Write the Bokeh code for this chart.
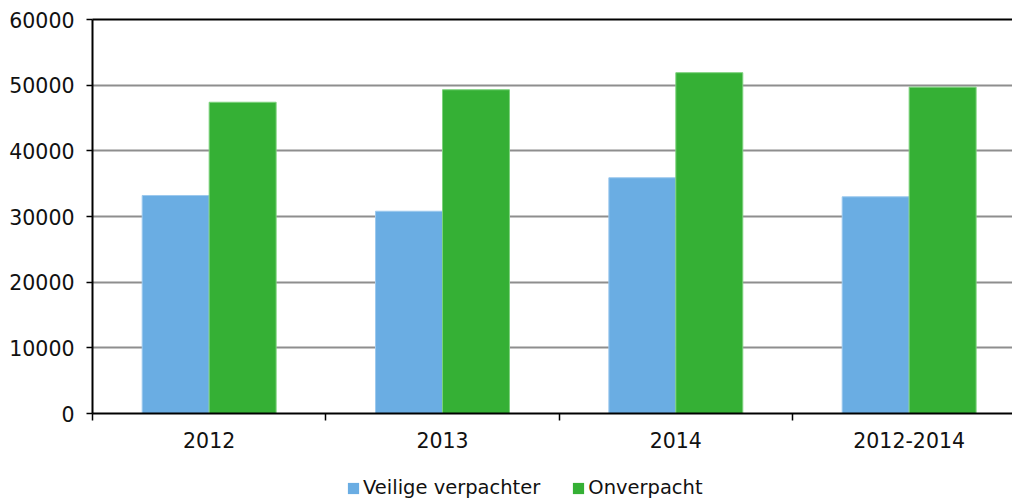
from bokeh.plotting import figure
from bokeh.models import (Range1d, FixedTicker, LinearAxis, Legend, LegendItem,
                          ColumnDataSource, BasicTickFormatter)
from bokeh.layouts import column
from bokeh.transform import dodge
from bokeh.embed import file_html
from bokeh.resources import INLINE

categories = ["2012", "2013", "2014", "2012-2014"]
series_names = ["Veilige verpachter", "Onverpacht"]
veilige_verpachter = [33200, 30800, 35900, 33000]
onverpacht = [47400, 49300, 51900, 49700]
y_ticks = [0, 10000, 20000, 30000, 40000, 50000, 60000]
colors = ["#6AADE3", "#35B035"]
edge_colors = ["#9cc9ee", "#7dd27d"]

FONT = "DejaVu Sans"
FS = "20.5px"

xpos = [i + 0.5 for i in range(len(categories))]
src = ColumnDataSource(dict(x=xpos, cat=categories, v=veilige_verpachter, o=onverpacht))

W = 1012
H_MAIN = 460
H_LEG = 39
frame_left = 92
cat_px = 233.33
x_end = (W - frame_left) / cat_px

p = figure(width=W, height=H_MAIN, output_backend="svg", toolbar_location=None,
           x_range=Range1d(0, x_end), y_range=Range1d(0, 60000),
           min_border_left=frame_left, min_border_right=0, min_border_top=19,
           min_border_bottom=H_MAIN - 413, x_axis_location=None, y_axis_location=None)
p.outline_line_color = None
p.background_fill_color = "white"
p.border_fill_color = "white"

bw = 0.287
p.vbar(x=dodge("x", -bw / 2, range=p.x_range), top="v", width=bw, source=src,
       fill_color=colors[0], line_color=edge_colors[0], line_width=1)
p.vbar(x=dodge("x", bw / 2, range=p.x_range), top="o", width=bw, source=src,
       fill_color=colors[1], line_color=edge_colors[1], line_width=1)

# y axis
yax = LinearAxis(ticker=FixedTicker(ticks=y_ticks),
                 formatter=BasicTickFormatter(use_scientific=False))
yax.axis_line_color = "black"
yax.axis_line_width = 2
yax.major_tick_out = 6
yax.major_tick_in = 0
yax.major_tick_line_width = 1.5
yax.minor_tick_line_color = None
yax.major_label_text_font = FONT
yax.major_label_text_font_size = FS
yax.major_label_text_color = "#111111"
yax.major_label_standoff = 12
p.add_layout(yax, "left")

# x axis
xax = LinearAxis(ticker=FixedTicker(ticks=xpos, minor_ticks=list(range(len(categories) + 1))))
xax.major_label_overrides = {x: c for x, c in zip(xpos, categories)}
xax.axis_line_color = "black"
xax.axis_line_width = 2
xax.major_tick_out = 0
xax.major_tick_in = 0
xax.minor_tick_out = 7
xax.minor_tick_in = 0
xax.minor_tick_line_color = "black"
xax.minor_tick_line_width = 1.5
xax.major_label_text_font = FONT
xax.major_label_text_font_size = FS
xax.major_label_text_color = "#111111"
xax.major_label_standoff = 11
p.add_layout(xax, "below")

# top border line
tax = LinearAxis(ticker=FixedTicker(ticks=[]))
tax.axis_line_color = "black"
tax.axis_line_width = 2
tax.major_tick_out = 0
tax.major_tick_in = 0
tax.major_label_standoff = 0
tax.major_label_text_font_size = "0px"
p.add_layout(tax, "above")

p.xgrid.grid_line_color = None
p.ygrid.ticker = FixedTicker(ticks=y_ticks)
p.ygrid.grid_line_color = "#8e8e8e"
p.ygrid.grid_line_width = 2

# legend strip (its bars lie outside its view; only the legend shows)
p2 = figure(width=W, height=H_LEG, output_backend="svg", toolbar_location=None,
            x_range=Range1d(-3, -2), y_range=Range1d(-3, -2),
            min_border_left=0, min_border_right=0, min_border_top=0, min_border_bottom=0,
            x_axis_location=None, y_axis_location=None)
p2.outline_line_color = None
p2.grid.visible = False
p2.border_fill_color = "white"
p2.background_fill_color = "white"
lr1 = p2.vbar(x="x", top="v", width=bw, source=src, fill_color=colors[0], line_color=None)
lr2 = p2.vbar(x="x", top="o", width=bw, source=src, fill_color=colors[1], line_color=None)

legend = Legend(items=[LegendItem(label=series_names[0], renderers=[lr1]),
                       LegendItem(label=series_names[1], renderers=[lr2])],
                orientation="horizontal", location=(254, 0))
legend.glyph_width = 14
legend.glyph_height = 14
legend.label_standoff = 3
legend.spacing = 31
legend.padding = 2
legend.margin = 0
legend.border_line_color = None
legend.background_fill_alpha = 0
legend.label_text_font = FONT
legend.label_text_font_size = "19.5px"
legend.label_text_color = "#111111"
legend.label_height = 20
p2.add_layout(legend, "center")

layout = column(p, p2, spacing=0)
open("out.html", "w").write(file_html(layout, INLINE))
